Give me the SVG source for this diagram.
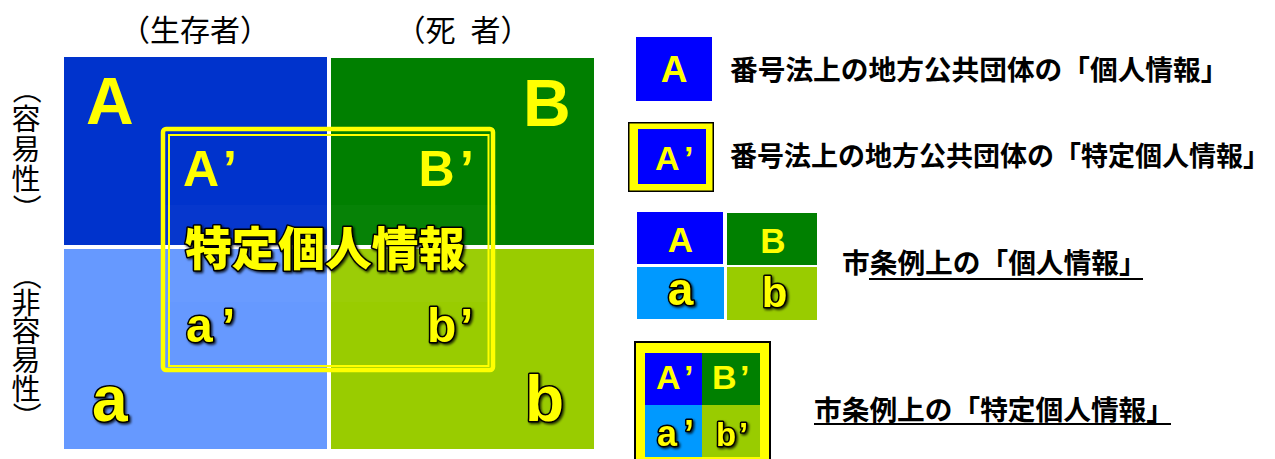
<svg xmlns="http://www.w3.org/2000/svg" width="1275" height="459" viewBox="0 0 1275 459">
<defs>
<style>
.lat{font-family:"Liberation Sans",Arial,sans-serif;font-weight:700;fill:#FFFF00}
.ol{stroke:#000;stroke-width:3;stroke-linejoin:round;paint-order:stroke}
.jp{font-family:"Noto Sans CJK JP",sans-serif}
.lbl{font-family:"Noto Sans CJK JP",sans-serif;font-size:30px;fill:#000}
.v{font-family:"Noto Sans CJK JP",sans-serif;font-size:29px;fill:#000}
.leg{font-family:"Noto Sans CJK JP",sans-serif;font-size:27.7px;font-weight:700;fill:#000}
</style>
<filter id="sh" x="-20%" y="-20%" width="140%" height="140%">
<feDropShadow dx="1.5" dy="1.5" stdDeviation="1.2" flood-color="#000" flood-opacity="0.8"/>
</filter>
</defs>
<rect width="1275" height="459" fill="#FFFFFF"/>

<g id="labels">
<text class="lbl" x="195" y="41" text-anchor="middle">（生存者）</text>
<text class="lbl" x="463" y="41" text-anchor="middle">（死<tspan dx="15">者）</tspan></text>
<text id="label-easy" class="v" x="15.6 11.5 11.5 11.5 15.6" y="75 130 160 190 194" rotate="90 0 0 0 90">（容易性）</text>
<text id="label-noneasy" class="v" x="15.6 11.5 11.5 11.5 11.5 15.6" y="261 314 342 371 400 402" rotate="90 0 0 0 0 90">（非容易性）</text>
</g>

<g id="cell-A">
<rect x="64" y="57" width="263" height="188" fill="#0033CC"/>
<text class="lat" x="86" y="124" font-size="66">A</text>
</g>
<g id="cell-B">
<rect x="331" y="58" width="263" height="187" fill="#007F00"/>
<text class="lat" x="523" y="126" font-size="66">B</text>
</g>
<g id="cell-a">
<rect x="64" y="249" width="263" height="200" fill="#6699FF"/>
<text class="lat ol" x="92" y="421" font-size="64" filter="url(#sh)">a</text>
</g>
<g id="cell-b">
<rect x="331" y="249" width="263" height="200" fill="#99CC00"/>
<text class="lat ol" x="525" y="421" font-size="64" filter="url(#sh)">b</text>
</g>

<g id="specific">
<rect x="161" y="205" width="336" height="97" fill="#FFFFFF" opacity="0.025"/>
<rect x="163" y="129" width="330" height="241" rx="3" fill="none" stroke="#FFFF00" stroke-width="4.5"/>
<rect x="169" y="135" width="319.5" height="231" fill="none" stroke="#FFFF00" stroke-width="2"/>
<text class="lat" x="183" y="186" font-size="50">A<tspan x="223">’</tspan></text>
<text class="lat" x="418.5" y="186" font-size="50">B<tspan x="460">’</tspan></text>
<text class="lat ol" x="186" y="342" font-size="48" filter="url(#sh)">a<tspan x="222">’</tspan></text>
<text class="lat ol" x="427" y="342" font-size="48" filter="url(#sh)">b<tspan x="460">’</tspan></text>
<text class="jp ol" x="185" y="265" font-size="46" font-weight="900" fill="#FFFF00" textLength="280" lengthAdjust="spacingAndGlyphs" filter="url(#sh)">特定個人情報</text>
</g>

<g id="legend-1">
<rect x="636" y="37" width="76" height="64" fill="#0000FF"/>
<text class="lat" x="674" y="82" font-size="37" text-anchor="middle">A</text>
<text class="leg" x="730" y="80">番号法上の地方公共団体の「個人情報」</text>
</g>

<g id="legend-2">
<rect x="628.75" y="122.75" width="84.5" height="68.5" fill="#FFFF00" stroke="#000" stroke-width="1.5"/>
<rect x="638" y="129" width="68" height="55" fill="#0000FF"/>
<text class="lat" x="655" y="170" font-size="34">A<tspan x="684">’</tspan></text>
<text class="leg" x="730" y="166" font-size="27" style="font-size:27px">番号法上の地方公共団体の「特定個人情報」</text>
</g>

<g id="legend-3">
<rect x="637" y="212" width="86" height="52" fill="#0000FF"/>
<rect x="727" y="213" width="90" height="52" fill="#008000"/>
<rect x="637" y="267" width="87" height="52" fill="#0099FF"/>
<rect x="727" y="267" width="90" height="53" fill="#99CC00"/>
<text class="lat" x="680.5" y="252" font-size="35" text-anchor="middle">A</text>
<text class="lat" x="773" y="253" font-size="35" text-anchor="middle">B</text>
<text class="lat ol" x="680.5" y="305" font-size="46" text-anchor="middle" filter="url(#sh)">a</text>
<text class="lat ol" x="774.5" y="307" font-size="42" text-anchor="middle" filter="url(#sh)">b</text>
<text class="leg" x="842" y="273">市条例上の「個人情報」</text>
<line x1="869" y1="279" x2="1143" y2="279" stroke="#000" stroke-width="2"/>
</g>

<g id="legend-4">
<rect x="635" y="342" width="135" height="130" fill="#FFFF00" stroke="#000" stroke-width="2"/>
<rect x="645" y="353" width="57" height="52" fill="#0000FF"/>
<rect x="702" y="353" width="58" height="52" fill="#008000"/>
<rect x="645" y="405" width="57" height="52" fill="#0099FF"/>
<rect x="702" y="405" width="58" height="52" fill="#99CC00"/>
<text class="lat" x="656" y="389" font-size="34">A<tspan x="684">’</tspan></text>
<text class="lat" x="712" y="389" font-size="34">B<tspan x="740">’</tspan></text>
<text class="lat ol" x="657" y="446" font-size="36" filter="url(#sh)">a<tspan x="684">’</tspan></text>
<text class="lat ol" x="716" y="446" font-size="33" filter="url(#sh)">b<tspan x="739">’</tspan></text>
<text class="leg" x="814" y="420">市条例上の「特定個人情報」</text>
<line x1="814" y1="424" x2="1171" y2="424" stroke="#000" stroke-width="2"/>
</g>
</svg>
